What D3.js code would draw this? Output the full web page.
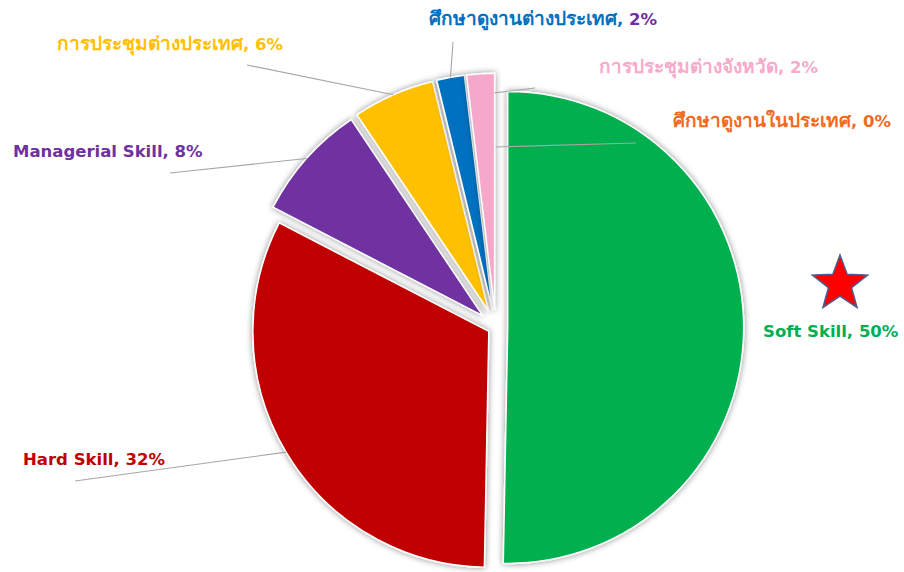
<!DOCTYPE html>
<html>
<head>
<meta charset="utf-8">
<script src="https://cdn.jsdelivr.net/npm/d3@7"></script>
<style>
  html, body { margin: 0; padding: 0; background: #ffffff; }
  svg { display: block; }
  .lbl { font-family: Tahoma, "DejaVu Sans", "Noto Sans", sans-serif; font-weight: bold; font-size: 16.5px; }
  .thai { font-size: 19px; }
</style>
</head>
<body>
<script>
// Training budget share by category (percent of total)
const categories = [
  "Soft Skill",
  "Hard Skill",
  "Managerial Skill",
  "การประชุมต่างประเทศ",
  "ศึกษาดูงานต่างประเทศ",
  "การประชุมต่างจังหวัด",
  "ศึกษาดูงานในประเทศ"
];
const shares = [50.3, 32.3, 8.0, 5.6, 1.9, 1.9, 0.0];

// Slice and label colours, one per category
const sliceColors = ["#00B050", "#C00000", "#7030A0", "#FFC000", "#0070C0", "#F5A8CA", "#F26B1D"];
const labelColors = ["#00B050", "#C00000", "#7030A0", "#FFC000", "#0070C0", "#F7AACB", "#F26B1D"];
const percentColors = ["#00B050", "#C00000", "#7030A0", "#FFC000", "#7030A0", "#F7AACB", "#F26B1D"];

const W = 904, H = 572;
const cx = 495.7, cy = 327.3, R = 236;
// how far each slice is pulled out from the centre
const explode = [12, 8, 17.5, 18, 18, 18, 18];

// label placement: baseline point, anchor, leader start and where it meets the slice
const labelLayout = [
  { x: 763, y: 337, anchor: "start", leader: null },
  { x: 23, y: 464.5, anchor: "start", leader: { from: [75, 481], at: "mid", k: 1 } },
  { x: 13, y: 156.5, anchor: "start", leader: { from: [170, 173], at: "mid", k: 1 } },
  { x: 170, y: 50, anchor: "middle", leader: { from: [247, 65], at: "mid", k: 1 } },
  { x: 543, y: 24.5, anchor: "middle", leader: { from: [453, 42], at: "mid", k: 1 } },
  { x: 708.5, y: 73, anchor: "middle", leader: { from: [535, 88], at: "end", k: 0.917 } },
  { x: 782, y: 127, anchor: "middle", leader: { from: [636, 143], at: "end", k: 0.688 } }
];

const svg = d3.select("body").append("svg")
  .attr("width", W).attr("height", H);

// soft grey glow around each slice
const defs = svg.append("defs");
const f = defs.append("filter").attr("id", "glow")
  .attr("x", "-20%").attr("y", "-20%").attr("width", "140%").attr("height", "140%");
f.append("feDropShadow")
  .attr("dx", 0).attr("dy", 0)
  .attr("stdDeviation", 3)
  .attr("flood-color", "#000").attr("flood-opacity", 0.45);

const total = d3.sum(shares);
const pieData = d3.pie().sort(null).value(d => d)(shares);
const arc = d3.arc().innerRadius(0).outerRadius(R);

const offsetOf = (d, i) => {
  const m = (d.startAngle + d.endAngle) / 2;
  return [explode[i] * Math.sin(m), -explode[i] * Math.cos(m)];
};

const pieG = svg.append("g").attr("transform", `translate(${cx},${cy})`);

pieG.selectAll("path.slice")
  .data(pieData.filter(d => d.value > 0))
  .join("path")
  .attr("class", "slice")
  .attr("d", arc)
  .attr("transform", d => { const o = offsetOf(d, d.index); return `translate(${o[0]},${o[1]})`; })
  .attr("fill", d => sliceColors[d.index])
  .attr("stroke", "#ffffff")
  .attr("stroke-width", 1.5)
  .attr("stroke-linejoin", "round")
  .attr("filter", "url(#glow)");

// leader lines from labels to their slices
const leaders = svg.append("g");
pieData.forEach((d, i) => {
  const L = labelLayout[i].leader;
  if (!L) return;
  const o = offsetOf(d, i);
  const a = L.at === "mid" ? (d.startAngle + d.endAngle) / 2 : d.endAngle;
  const px = cx + o[0] + R * L.k * Math.sin(a);
  const py = cy + o[1] - R * L.k * Math.cos(a);
  leaders.append("line")
    .attr("x1", L.from[0]).attr("y1", L.from[1])
    .attr("x2", px).attr("y2", py)
    .attr("stroke", "#A6A6A6").attr("stroke-width", 1.1);
});

// data labels: "category, pct%"
const isThai = s => /[\u0E00-\u0E7F]/.test(s);
const labels = svg.append("g");
pieData.forEach((d, i) => {
  const L = labelLayout[i];
  const pct = Math.round(d.value / total * 100);
  const t = labels.append("text")
    .attr("class", "lbl")
    .attr("x", L.x).attr("y", L.y)
    .attr("text-anchor", L.anchor);
  t.append("tspan").attr("fill", labelColors[i])
    .classed("thai", isThai(categories[i]))
    .text(categories[i]);
  t.append("tspan").attr("fill", labelColors[i]).text(", ");
  t.append("tspan").attr("fill", percentColors[i]).text(`${pct}%`);
});

// star marker next to the largest slice
const starR = 29, starInner = 0.42;
const starPts = d3.range(10).map(k => {
  const a = k * Math.PI / 5;
  const r = k % 2 === 0 ? starR : starR * starInner;
  return [r * Math.sin(a), -r * Math.cos(a)];
});
svg.append("path")
  .attr("transform", "translate(840,284)")
  .attr("d", d3.line()(starPts) + "Z")
  .attr("fill", "#FF0000")
  .attr("stroke", "#4A5F8A")
  .attr("stroke-width", 1.5)
  .attr("stroke-linejoin", "miter");
</script>
</body>
</html>
